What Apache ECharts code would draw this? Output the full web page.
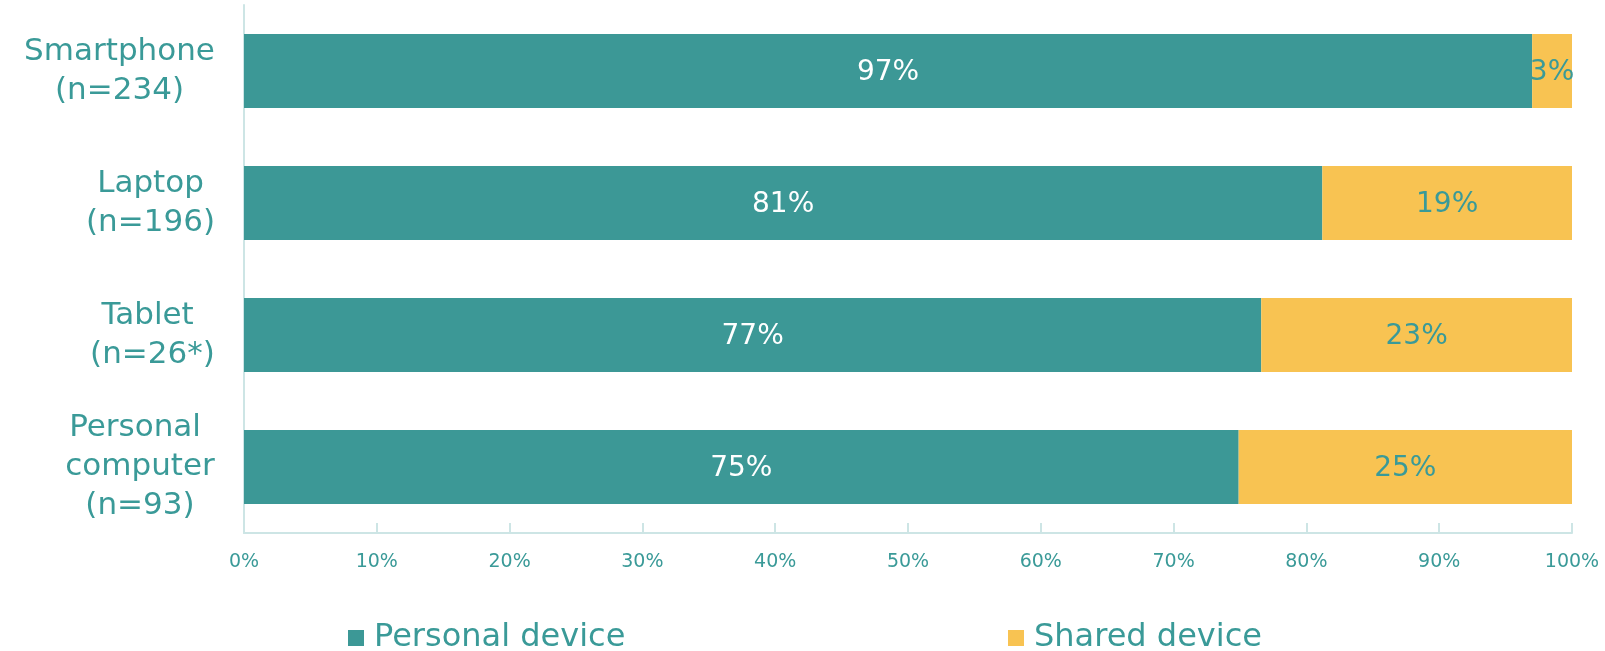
<!DOCTYPE html>
<html>
<head>
<meta charset="utf-8">
<script src="https://cdn.jsdelivr.net/npm/echarts@6/dist/echarts.min.js"></script>
<style>
  html, body { margin: 0; padding: 0; background: #fff; }
  #chart { width: 1605px; height: 651px; }
</style>
</head>
<body>
<div id="chart"></div>
<script>
const categories = ['Smartphone\n(n=234)', 'Laptop\n(n=196)', 'Tablet \n(n=26*)', 'Personal \ncomputer\n(n=93)']
const personal = [97, 81.2, 76.6, 74.9]
const shared = [3, 18.8, 23.4, 25.1]
const seriesNames = ['Personal device', 'Shared device']
const xTicks = [0, 10, 20, 30, 40, 50, 60, 70, 80, 90, 100]

const TEAL = '#3c9896'
const YELLOW = '#f8c352'
const TEXT = '#3a9a98'
const AXIS = '#cde5e5'
const FONT = 'DejaVu Sans'
const CAT_SIZE = 31

// each label block is right aligned, its lines are centred inside it
const ctx = document.createElement('canvas').getContext('2d')
ctx.font = CAT_SIZE + 'px "' + FONT + '"'
const rich = {}
categories.forEach((c, i) => {
  const w = Math.max(...c.split('\n').map(s => ctx.measureText(s).width))
  rich['c' + i] = { width: Math.ceil(w), align: 'center', fontSize: CAT_SIZE, lineHeight: 39, color: TEXT, fontFamily: FONT }
})

const pct = p => Math.round(p.value) + '%'

const chart = echarts.init(document.getElementById('chart'))
chart.setOption({
  animation: false,
  textStyle: { fontFamily: FONT },
  legend: [
    {
      data: [seriesNames[0]], left: 348, top: 622, padding: 0,
      icon: 'rect', itemWidth: 16, itemHeight: 16,
      textStyle: { fontSize: 32, color: TEXT, fontFamily: FONT, padding: [0, 0, 0, 5] }
    },
    {
      data: [seriesNames[1]], left: 1008, top: 622, padding: 0,
      icon: 'rect', itemWidth: 16, itemHeight: 16,
      textStyle: { fontSize: 32, color: TEXT, fontFamily: FONT, padding: [0, 0, 0, 5] }
    }
  ],
  grid: { left: 244, right: 33, top: 5, bottom: 118 },
  xAxis: {
    type: 'value',
    min: xTicks[0],
    max: xTicks[xTicks.length - 1],
    interval: 10,
    splitLine: { show: false },
    axisLine: { show: true, lineStyle: { color: AXIS, width: 2 } },
    axisTick: { show: true, inside: true, length: 10, lineStyle: { color: AXIS, width: 2 } },
    axisLabel: { formatter: '{value}%', fontSize: 19, color: TEXT, margin: 20 }
  },
  yAxis: {
    type: 'category',
    inverse: true,
    data: categories,
    axisLine: { show: true, lineStyle: { color: AXIS, width: 2 } },
    axisTick: { show: false },
    axisLabel: {
      margin: 29,
      formatter: (v, i) => v.split('\n').map(s => '{c' + i + '|' + s + '}').join('\n'),
      rich: rich
    }
  },
  series: [
    {
      name: seriesNames[0],
      type: 'bar',
      stack: 'all',
      barCategoryGap: '44%',
      data: personal,
      itemStyle: { color: TEAL },
      label: { show: true, position: 'inside', offset: [0, 2], formatter: pct, color: '#fff', fontSize: 28 }
    },
    {
      name: seriesNames[1],
      type: 'bar',
      stack: 'all',
      barCategoryGap: '44%',
      data: shared,
      itemStyle: { color: YELLOW },
      label: { show: true, position: 'inside', offset: [0, 2], formatter: pct, color: TEXT, fontSize: 28 }
    }
  ]
})
</script>
</body>
</html>
